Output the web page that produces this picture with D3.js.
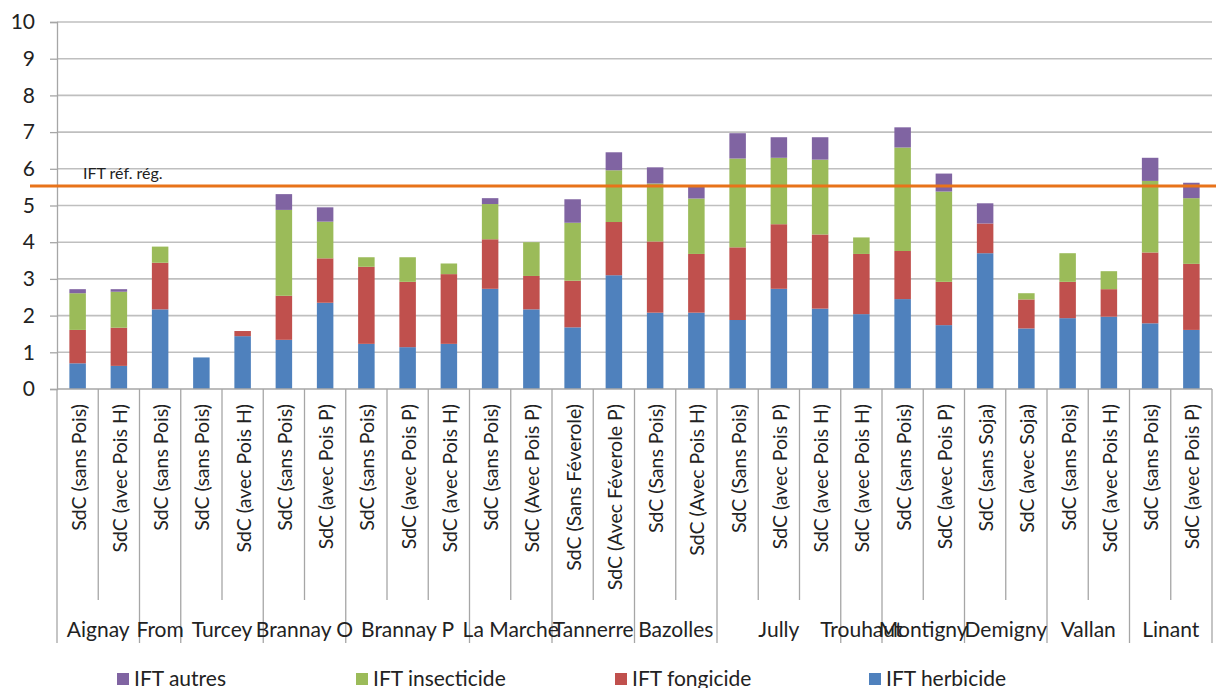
<!DOCTYPE html>
<html>
<head>
<meta charset="utf-8">
<script src="https://cdn.jsdelivr.net/npm/d3@7/dist/d3.min.js"></script>
<style>
  html, body { margin: 0; padding: 0; background: #fff; overflow: hidden; }
  svg { display: block; }
  text { font-family: Lato, "Open Sans", sans-serif; fill: #222; }
</style>
</head>
<body>
<svg id="chart" width="1216" height="688"></svg>
<script>
// Systèmes de culture (one bar each), in display order
const sdcLabels = [
  "SdC (sans Pois)", "SdC (avec Pois H)",
  "SdC (sans Pois)",
  "SdC (sans Pois)", "SdC (avec Pois H)",
  "SdC (sans Pois)", "SdC (avec Pois P)",
  "SdC (sans Pois)", "SdC (avec Pois P)", "SdC (avec Pois H)",
  "SdC (sans Pois)", "SdC (Avec  Pois P)",
  "SdC (Sans Féverole)", "SdC (Avec Féverole P)",
  "SdC (Sans Pois)", "SdC (Avec Pois H)",
  "SdC (Sans Pois)", "SdC (avec Pois P)", "SdC (avec Pois H)",
  "SdC (avec Pois H)",
  "SdC (sans Pois)", "SdC (avec Pois P)",
  "SdC (sans Soja)", "SdC (avec Soja)",
  "SdC (sans Pois)", "SdC (avec Pois H)",
  "SdC (sans Pois)", "SdC (avec Pois P)"
];

// Sites (farms) and how many SdC each one groups
const sites = ["Aignay", "From", "Turcey", "Brannay O", "Brannay P", "La Marche", "Tannerre",
               "Bazolles", "Jully", "Trouhaut", "Montigny", "Demigny", "Vallan", "Linant"];
const siteSizes = [2, 1, 2, 2, 3, 2, 2, 2, 3, 1, 2, 2, 2, 2];

// IFT components per SdC
const iftHerbicide = [0.70, 0.63, 2.17, 0.86, 1.44, 1.34, 2.35, 1.23, 1.14, 1.23,
                      2.73, 2.17, 1.68, 3.10, 2.08, 2.08, 1.88, 2.73, 2.19, 2.04,
                      2.45, 1.74, 3.70, 1.65, 1.93, 1.97, 1.79, 1.61];
const iftFongicide = [0.91, 1.04, 1.27, 0.00, 0.14, 1.20, 1.21, 2.10, 1.78, 1.90,
                      1.35, 0.91, 1.27, 1.45, 1.94, 1.60, 1.98, 1.76, 2.02, 1.64,
                      1.31, 1.18, 0.81, 0.79, 0.99, 0.75, 1.93, 1.80];
const iftInsecticide = [1.00, 0.98, 0.44, 0.00, 0.00, 2.34, 1.00, 0.26, 0.67, 0.29,
                        0.96, 0.92, 1.58, 1.41, 1.58, 1.51, 2.42, 1.81, 2.04, 0.45,
                        2.82, 2.46, 0.00, 0.17, 0.78, 0.49, 1.95, 1.79];
const iftAutres = [0.11, 0.07, 0.00, 0.00, 0.00, 0.43, 0.39, 0.00, 0.00, 0.00,
                   0.16, 0.00, 0.64, 0.49, 0.44, 0.32, 0.69, 0.56, 0.61, 0.00,
                   0.55, 0.49, 0.55, 0.00, 0.00, 0.00, 0.63, 0.42];

// Regional reference IFT
const iftReference = 5.53;
const referenceLabel = "IFT réf. rég.";

const yTicks = [0, 1, 2, 3, 4, 5, 6, 7, 8, 9, 10];

const seriesNames = ["IFT herbicide", "IFT fongicide", "IFT insecticide", "IFT autres"];
const seriesColors = ["#4F81BD", "#C0504D", "#9BBB59", "#8064A2"];
const legendOrder = ["IFT autres", "IFT insecticide", "IFT fongicide", "IFT herbicide"];

// ---- layout
const plot = { left: 57, right: 1212, top: 22, bottom: 389 };
const svg = d3.select("#chart");

const rows = sdcLabels.map((label, i) => ({
  id: i,
  label,
  "IFT herbicide": iftHerbicide[i],
  "IFT fongicide": iftFongicide[i],
  "IFT insecticide": iftInsecticide[i],
  "IFT autres": iftAutres[i]
}));

const x = d3.scaleBand()
  .domain(rows.map(d => d.id))
  .range([plot.left, plot.right])
  .paddingInner(0.6)
  .paddingOuter(0.3);
const step = x.step();
const edge = id => x(id) - (step - x.bandwidth()) / 2;   // left edge of a category slot

const y = d3.scaleLinear().domain([0, 10]).range([plot.bottom, plot.top]);
const color = d3.scaleOrdinal().domain(seriesNames).range(seriesColors);

// horizontal grid
svg.append("g")
  .selectAll("line")
  .data(yTicks.filter(t => t > 0))
  .join("line")
  .attr("x1", plot.left).attr("x2", plot.right)
  .attr("y1", d => y(d)).attr("y2", d => y(d))
  .attr("stroke", "#BFBFBF").attr("stroke-width", 1.6);

// y axis
const yAxis = svg.append("g")
  .attr("transform", `translate(${plot.left},0)`)
  .call(d3.axisLeft(y).tickValues(yTicks).tickSize(7).tickPadding(15).tickFormat(d3.format("d")));
yAxis.select(".domain").attr("stroke", "#A6A6A6").attr("stroke-width", 1.3);
yAxis.selectAll(".tick line").attr("stroke", "#A6A6A6").attr("stroke-width", 1.3);
yAxis.selectAll(".tick text")
  .attr("font-size", 21).attr("font-family", "Lato, sans-serif").attr("fill", "#222");

// stacked bars
const stacked = d3.stack().keys(seriesNames)(rows);
svg.append("g")
  .selectAll("g")
  .data(stacked)
  .join("g")
  .attr("fill", d => color(d.key))
  .selectAll("rect")
  .data(d => d)
  .join("rect")
  .attr("x", d => x(d.data.id))
  .attr("width", x.bandwidth())
  .attr("y", d => y(d[1]))
  .attr("height", d => y(d[0]) - y(d[1]));

// x axis baseline
svg.append("line")
  .attr("x1", plot.left).attr("x2", plot.right)
  .attr("y1", plot.bottom).attr("y2", plot.bottom)
  .attr("stroke", "#A6A6A6").attr("stroke-width", 1.5);

// category separators below the axis: short between SdC, long between sites
const siteStarts = new Set();
let acc = 0;
siteSizes.forEach(n => { siteStarts.add(acc); acc += n; });
const boundaries = d3.range(rows.length + 1);
svg.append("g")
  .selectAll("line")
  .data(boundaries)
  .join("line")
  .attr("x1", k => k < rows.length ? edge(k) : plot.right)
  .attr("x2", k => k < rows.length ? edge(k) : plot.right)
  .attr("y1", plot.bottom)
  .attr("y2", k => (siteStarts.has(k) || k === rows.length) ? 643 : 600)
  .attr("stroke", "#A6A6A6").attr("stroke-width", 1.3);

// rotated SdC labels
svg.append("g")
  .selectAll("text")
  .data(rows)
  .join("text")
  .attr("transform", d => `translate(${x(d.id) + x.bandwidth() / 2 + 1},404) rotate(-90)`)
  .attr("text-anchor", "end")
  .attr("dy", "0.36em")
  .attr("font-size", 19.5)
  .text(d => d.label);

// site labels
let start = 0;
const siteRows = sites.map((s, i) => {
  const r = { name: s, first: start, last: start + siteSizes[i] - 1 };
  start += siteSizes[i];
  return r;
});
svg.append("g")
  .selectAll("text")
  .data(siteRows)
  .join("text")
  .attr("x", d => (edge(d.first) + edge(d.last) + step) / 2)
  .attr("y", 637)
  .attr("text-anchor", "middle")
  .attr("font-size", 21)
  .text(d => d.name);

// regional reference line
svg.append("line")
  .attr("x1", 30).attr("x2", 1216)
  .attr("y1", y(iftReference)).attr("y2", y(iftReference))
  .attr("stroke", "#E8731A").attr("stroke-width", 3);
svg.append("text")
  .attr("x", 83).attr("y", y(iftReference) - 7)
  .attr("font-family", "'Liberation Sans Narrow', 'Arial Narrow', sans-serif")
  .attr("font-size", 16)
  .attr("fill", "#1a1a1a")
  .text(referenceLabel);

// legend
const legendX = [117, 356, 615, 869];
const legend = svg.append("g")
  .selectAll("g")
  .data(legendOrder)
  .join("g")
  .attr("transform", (d, i) => `translate(${legendX[i]},673)`);
legend.append("rect")
  .attr("width", 12).attr("height", 12)
  .attr("fill", d => color(d));
legend.append("text")
  .attr("x", 17).attr("y", 13)
  .attr("font-size", 21)
  .text(d => d);
</script>
</body>
</html>
